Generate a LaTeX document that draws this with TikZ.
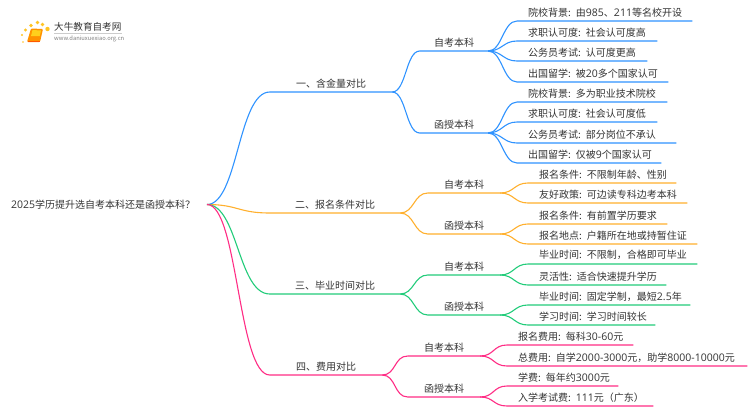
\documentclass[tikz,border=0pt]{standalone}
\usepackage{fontspec}
\setmainfont{Noto Sans CJK SC}
\newfontfamily\numfont[Scale=1.05]{Open Sans}
\usetikzlibrary{positioning}
\usetikzlibrary{calc}
\definecolor{textgray}{HTML}{333333}
\definecolor{bluebranch}{HTML}{2F93FF}
\definecolor{orangebranch}{HTML}{FFB02E}
\definecolor{greenbranch}{HTML}{22CC7A}
\definecolor{pinkbranch}{HTML}{FF2D85}
\newcommand\nm[1]{{\numfont #1}}
\newcommand\cl{:\hspace{5pt}}
\tikzset{
    topic/.style={inner sep=0pt, minimum height=17pt, anchor=south, text=textgray, font=\fontsize{10}{12}\selectfont},
    leaf/.style={topic, anchor=south west, inner xsep=11pt, align=left},
    branch/.style={line width=1.1pt},
}
\newcommand\fork[3]{%
    \draw[branch,#1] (#2.south east) .. controls +(14,0) and ($(#3.south west)+(-14,0)$) .. (#3.south west) -- (#3.south east);
}

\begin{document}
\begin{tikzpicture}[x=1pt,y=-1pt]
        \path[fill=white] (0,0) rectangle (750,410);

        % logo
        \foreach \dotx/\doty/\dotr in {22/35/1.1, 23/42/.8, 25.5/30/1.6, 31/25.5/1.8, 37.5/22.5/1.9, 42.5/24.5/1.8, 47.5/29/2.2} {
            \fill[orangebranch!75!yellow] (\dotx,\doty) circle (\dotr);
        }
        \fill[orange!85!yellow, rounded corners=1pt] (31,28.5) -- (43,29) -- (40,42) -- (27,42) -- cycle;
        \fill[orangebranch!60!yellow] (32.5,30) -- (41,30.5) -- (39.8,36) -- (31,36) -- cycle;
        \draw[orange!70!red, line width=.8pt] (27.5,41.7) -- (40,41.7);
        \node[inner sep=0pt, anchor=west, text=textgray, font=\fontsize{9.6}{11}\selectfont] (sitename) at (54,26.5) {大牛教育自考网};
        \node[inner sep=0pt, anchor=west, text=gray, font=\fontsize{5.8}{7}\selectfont] (siteurl) at (54,38.5) {www.daniuxuexiao.org.cn};
        \draw[gray!40, line width=.4pt] (54,33.3) -- (122,33.3);

        \node[inner sep=0pt, anchor=west, text=textgray, font=\fontsize{10}{12}\selectfont] (root) at (11,204.5) {\nm{2025}学历提升选自考本科还是函授本科？};
        \coordinate (rootend) at (207,204.5);

        % first level
        \foreach \name/\col/\xa/\xb/\yy/\txt in {
            one/bluebranch/270/392/92/一、含金量对比,
            two/orangebranch/270/400/213/二、报名条件对比,
            three/greenbranch/270/400/294/三、毕业时间对比,
            four/pinkbranch/270/382/375/四、费用对比} {
            \node[topic, minimum width=\xb-\xa] (\name) at ({(\xa+\xb)/2},\yy) {\txt};
            \draw[branch,\col] (rootend) .. controls (238,204.5) and (238,\yy) .. (\name.south west) -- (\name.south east);
        }

        % second level
        \foreach \name/\parent/\col/\xa/\xb/\yy/\txt in {
            oneA/one/bluebranch/420/488/51/自考本科,
            oneB/one/bluebranch/420/488/133/函授本科,
            twoA/two/orangebranch/428/500/193/自考本科,
            twoB/two/orangebranch/428/500/234/函授本科,
            threeA/three/greenbranch/428/500/275/自考本科,
            threeB/three/greenbranch/428/500/315/函授本科,
            fourA/four/pinkbranch/408/480/356/自考本科,
            fourB/four/pinkbranch/408/480/397/函授本科} {
            \node[topic, minimum width=\xb-\xa] (\name) at ({(\xa+\xb)/2},\yy) {\txt};
            \fork{\col}{\parent}{\name}
        }

        % leaves
        \foreach \name/\parent/\col/\xa/\xb/\yy/\txt in {
            oneAa/oneA/bluebranch/517/692/21/院校背景\cl 由\nm{985}、\nm{211}等名校开设,
            oneAb/oneA/bluebranch/517/657/41/求职认可度\cl 社会认可度高,
            oneAc/oneA/bluebranch/517/647/61/公务员考试\cl 认可度更高,
            oneAd/oneA/bluebranch/517/668/82/出国留学\cl 被\nm{20}多个国家认可,
            oneBa/oneB/bluebranch/517/667/102/院校背景\cl 多为职业技术院校,
            oneBb/oneB/bluebranch/517/657/122/求职认可度\cl 社会认可度低,
            oneBc/oneB/bluebranch/517/676/143/公务员考试\cl 部分岗位不承认,
            oneBd/oneB/bluebranch/517/661/163/出国留学\cl 仅被\nm{9}个国家认可,
            twoAa/twoA/orangebranch/528/676/183/报名条件\cl 不限制年龄、性别,
            twoAb/twoA/orangebranch/528/687/203/友好政策\cl 可边读专科边考本科,
            twoBa/twoB/orangebranch/528/667/224/报名条件\cl 有前置学历要求,
            twoBb/twoB/orangebranch/528/697/244/报名地点\cl 户籍所在地或持暂住证,
            threeAa/threeA/greenbranch/528/697/264/毕业时间\cl 不限制，合格即可毕业,
            threeAb/threeA/greenbranch/528/666/285/灵活性\cl 适合快速提升学历,
            threeBa/threeB/greenbranch/528/690/305/毕业时间\cl 固定学制，最短\nm{2.5}年,
            threeBb/threeB/greenbranch/528/655/325/学习时间\cl 学习时间较长,
            fourAa/fourA/pinkbranch/507/633/345/报名费用\cl 每科\nm{30-60}元,
            fourAb/fourA/pinkbranch/507/747/366/总费用\cl 自学\nm{2000-3000}元，助学\nm{8000-10000}元,
            fourBa/fourB/pinkbranch/507/618/386/学费\cl 每年约\nm{3000}元,
            fourBb/fourB/pinkbranch/507/653/406/入学考试费\cl \nm{111}元（广东）} {
            \node[leaf, text width=\xb-\xa-22] (\name) at (\xa,\yy) {\mbox{\txt}};
            \fork{\col}{\parent}{\name}
        }
    \end{tikzpicture}
\end{document}
